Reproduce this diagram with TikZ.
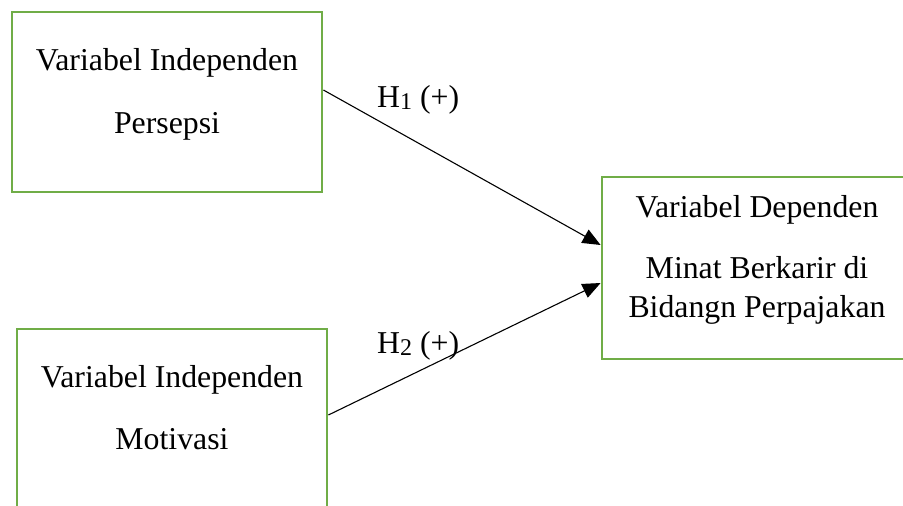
\documentclass[tikz,border=0pt]{standalone}
\usepackage{fontspec}
\setmainfont{Liberation Serif}
\usetikzlibrary{arrows.meta}
\definecolor{boxgreen}{HTML}{70AD47}
\newcommand{\hsub}[1]{\raisebox{-0.07em}{\fontsize{24}{24}\selectfont #1}}
\begin{document}
\begin{tikzpicture}[x=1pt,y=-1pt,
  varbox/.style={draw=boxgreen,line width=2.8pt,inner sep=0pt},
  txt/.style={anchor=base,inner sep=0pt,font=\fontsize{31.8}{38}\selectfont},
  lbl/.style={anchor=base west,inner sep=0pt,font=\fontsize{31.8}{38}\selectfont},
  link/.style={line width=1.1pt,-{Triangle[length=18pt,width=15pt]}}]
\useasboundingbox (0,0) rectangle (903,506);
\clip (0,0) rectangle (903,506);

% variable boxes
\node[varbox,minimum width=310pt,minimum height=180pt] (b1) at (167,102) {};
\node[varbox,minimum width=310pt,minimum height=211pt] (b2) at (172,434.5) {};
\node[varbox,minimum width=306pt,minimum height=182pt] (b3) at (755,268) {};

% box texts
\node[txt] (t1a) at (167,70) {Variabel Independen};
\node[txt] (t1b) at (167,133) {Persepsi};
\node[txt] (t2a) at (172,387) {Variabel Independen};
\node[txt] (t2b) at (172,449) {Motivasi};
\node[txt] (t3a) at (757,217) {Variabel Dependen};
\node[txt] (t3b) at (757,278) {Minat Berkarir di};
\node[txt] (t3c) at (757,317) {Bidangn Perpajakan};

% hypotheses
\draw[link] (b1.east |- 0,90) -- (b3.west |- 0,245);
\draw[link] (b2.east |- 0,415) -- (b3.west |- 0,283);
\node[lbl] (h1) at (377,107) {H\hsub{1} (+)};
\node[lbl] (h2) at (377,353) {H\hsub{2} (+)};
\end{tikzpicture}
\end{document}
